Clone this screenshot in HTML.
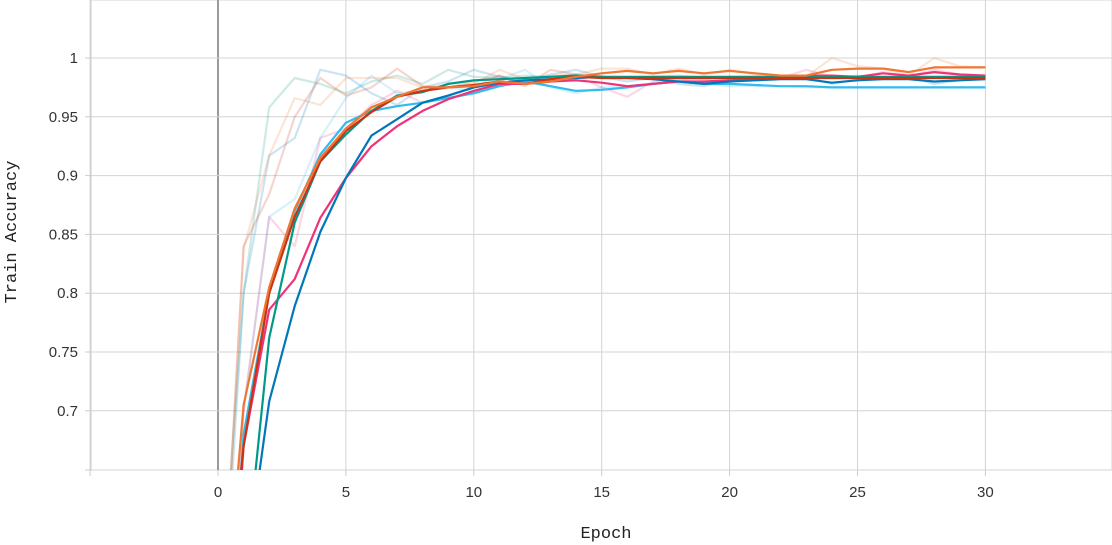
<!DOCTYPE html>
<html><head><meta charset="utf-8"><style>
html,body{margin:0;padding:0;background:#fff;width:1112px;height:545px;overflow:hidden}
svg{display:block}
svg text{font-family:"Liberation Sans",sans-serif}
</style></head><body>
<svg id="chart" width="1112" height="545" xmlns="http://www.w3.org/2000/svg">
<defs><clipPath id="clip"><rect x="91" y="0" width="1021" height="470"/></clipPath></defs>
<g id="grid"></g>
<g id="axes"></g>
<g id="series" clip-path="url(#clip)"></g>
<text x="606" y="538" text-anchor="middle" font-size="17" style="font-family:'Liberation Mono',monospace" fill="#222">Epoch</text>
<text transform="translate(16,232) rotate(-90)" text-anchor="middle" font-size="17" style="font-family:'Liberation Mono',monospace" fill="#222">Train Accuracy</text>
</svg>
<script>
const xTicks = [0,5,10,15,20,25,30];
const yTicks = [0.7,0.75,0.8,0.85,0.9,0.95,1];
const yTickLabels = ["0.7","0.75","0.8","0.85","0.9","0.95","1"];
const epochs = [0,1,2,3,4,5,6,7,8,9,10,11,12,13,14,15,16,17,18,19,20,21,22,23,24,25,26,27,28,29,30];
const blueVals = [0.3,0.55,0.708,0.789,0.852,0.898,0.934,0.948,0.962,0.968,0.975,0.979,0.981,0.982,0.983,0.984,0.983,0.982,0.980,0.978,0.980,0.981,0.982,0.982,0.979,0.981,0.982,0.982,0.980,0.981,0.982];
const tealVals = [0.3,0.55,0.762,0.860,0.912,0.935,0.955,0.968,0.971,0.978,0.981,0.982,0.983,0.984,0.985,0.984,0.984,0.984,0.984,0.984,0.984,0.984,0.984,0.984,0.984,0.984,0.984,0.984,0.984,0.984,0.984];
const cyanVals = [0.35,0.68,0.800,0.870,0.918,0.945,0.955,0.959,0.962,0.966,0.970,0.976,0.980,0.976,0.972,0.973,0.975,0.978,0.980,0.978,0.978,0.977,0.976,0.976,0.975,0.975,0.975,0.975,0.975,0.975,0.975];
const magentaVals = [0.35,0.67,0.786,0.812,0.864,0.898,0.925,0.942,0.955,0.965,0.972,0.978,0.978,0.980,0.981,0.979,0.976,0.978,0.980,0.980,0.981,0.982,0.983,0.985,0.985,0.984,0.987,0.985,0.988,0.986,0.985];
const redVals = [0.45,0.67,0.800,0.865,0.912,0.938,0.954,0.967,0.972,0.975,0.977,0.980,0.978,0.982,0.984,0.983,0.983,0.983,0.983,0.983,0.983,0.983,0.983,0.983,0.983,0.983,0.983,0.983,0.983,0.983,0.983];
const orangeVals = [0.45,0.705,0.805,0.872,0.915,0.940,0.958,0.967,0.975,0.975,0.976,0.980,0.978,0.980,0.984,0.987,0.989,0.987,0.989,0.987,0.989,0.987,0.985,0.985,0.990,0.991,0.991,0.988,0.992,0.992,0.992];
const rawTealVals = [0.5,0.80,0.958,0.983,0.978,0.970,0.980,0.985,0.978,0.990,0.984,0.983,0.985,0.984,0.986,0.984,0.983,0.984,0.985,0.983,0.984,0.984,0.984,0.984,0.983,0.985,0.984,0.984,0.984,0.984,0.984];
const rawBlueVals = [0.45,0.80,0.917,0.932,0.990,0.985,0.970,0.960,0.975,0.980,0.990,0.984,0.980,0.986,0.990,0.984,0.980,0.983,0.978,0.976,0.982,0.981,0.983,0.984,0.978,0.982,0.983,0.984,0.978,0.981,0.982];
const rawCyanVals = [0.4,0.70,0.865,0.880,0.932,0.966,0.985,0.970,0.972,0.975,0.972,0.982,0.990,0.975,0.970,0.975,0.976,0.978,0.982,0.978,0.976,0.976,0.976,0.975,0.975,0.975,0.975,0.975,0.975,0.975,0.975];
const rawPinkVals = [0.4,0.70,0.865,0.840,0.932,0.940,0.960,0.972,0.962,0.968,0.975,0.985,0.978,0.983,0.985,0.975,0.967,0.980,0.983,0.982,0.984,0.983,0.983,0.990,0.984,0.983,0.988,0.984,0.990,0.986,0.985];
const rawSalmonVals = [0.45,0.838,0.917,0.966,0.960,0.983,0.983,0.983,0.975,0.975,0.978,0.990,0.982,0.985,0.986,0.991,0.991,0.986,0.991,0.986,0.990,0.986,0.983,0.984,1.000,0.993,0.991,0.985,1.000,0.993,0.992];
const rawRedVals = [0.45,0.84,0.884,0.950,0.983,0.968,0.975,0.991,0.976,0.975,0.980,0.985,0.976,0.990,0.986,0.983,0.983,0.983,0.983,0.983,0.983,0.983,0.983,0.983,0.983,0.983,0.983,0.983,0.983,0.983,0.983];

const X = v => 218 + v * 25.58;
const Y = v => 58 + (1 - v) * 1176;
const NS = "http://www.w3.org/2000/svg";
function mk(tag, attrs, parent){const e=document.createElementNS(NS,tag);for(const k in attrs)e.setAttribute(k,attrs[k]);parent.appendChild(e);return e;}
const grid=document.getElementById('grid'), axes=document.getElementById('axes'), ser=document.getElementById('series');

mk('rect',{x:91,y:0,width:1021,height:470,fill:'none',stroke:'#d4d4d4','stroke-width':1},grid);
for(let i=-1;i<=7;i++){
  const v=i*5; const x=X(v);
  const l=mk('line',{x1:x,x2:x,y1:0,y2:470,stroke:v===0?'#9a9a9a':'#d4d4d4','stroke-width':v===0?2:1},grid);
  
  
  const tk=mk('line',{x1:x,x2:x,y1:470,y2:476,stroke:'#ccc'},axes);
  
  
}
xTicks.forEach(v=>{
  const t=mk('text',{x:X(v),y:497,'text-anchor':'middle','font-size':15,fill:'#333'},axes);
  t.textContent=String(v);
  
  
});
yTicks.forEach((v,i)=>{
  const y=Y(v);
  const l=mk('line',{x1:91,x2:1112,y1:y,y2:y,stroke:'#d4d4d4'},grid);
  
  
  mk('line',{x1:85,x2:91,y1:y,y2:y,stroke:'#ccc'},axes);
  const t=mk('text',{x:78,y:y+5,'text-anchor':'end','font-size':15,fill:'#333'},axes);
  t.textContent=yTickLabels[i];
  
  
});
mk('line',{x1:85,x2:91,y1:470,y2:470,stroke:'#ccc'},axes);
mk('line',{x1:91,x2:91,y1:0,y2:470,stroke:'#ccc'},axes);

const BOTTOM = 472;
function draw(vals,color,opacity,name){
  const pts=vals.map((v,i)=>[X(epochs[i]),Y(v)]);
  let d='', started=false;
  for(let i=0;i<pts.length;i++){
    const [x,y]=pts[i];
    if(y<=BOTTOM){
      if(!started){
        if(i>0){
          const [px,py]=pts[i-1];
          const t=(BOTTOM-py)/(y-py);
          d+='M'+(px+(x-px)*t).toFixed(1)+','+BOTTOM+' L'+x.toFixed(1)+','+y.toFixed(1)+' ';
        } else d+='M'+x.toFixed(1)+','+y.toFixed(1)+' ';
        started=true;
      } else d+='L'+x.toFixed(1)+','+y.toFixed(1)+' ';
    }
  }
  const p=mk('path',{d:d,fill:'none',stroke:color,'stroke-width':2.2,'stroke-opacity':opacity,'stroke-linejoin':'round'},ser);
  
  
}
draw(rawTealVals,'#009988',0.2,'raw-teal-line');
draw(rawBlueVals,'#0077bb',0.2,'raw-blue-line');
draw(rawCyanVals,'#33bbee',0.2,'raw-cyan-line');
draw(rawPinkVals,'#ee3377',0.2,'raw-magenta-line');
draw(rawSalmonVals,'#ee7733',0.2,'raw-orange-line');
draw(rawRedVals,'#cc3311',0.2,'raw-red-line');
draw(cyanVals,'#33bbee',1,'cyan-line');
draw(magentaVals,'#ee3377',1,'magenta-line');
draw(blueVals,'#0077bb',1,'blue-line');
draw(tealVals,'#009988',1,'teal-line');
draw(redVals,'#cc3311',1,'red-line');
draw(orangeVals,'#ee7733',1,'orange-line');
</script>
</body></html>
